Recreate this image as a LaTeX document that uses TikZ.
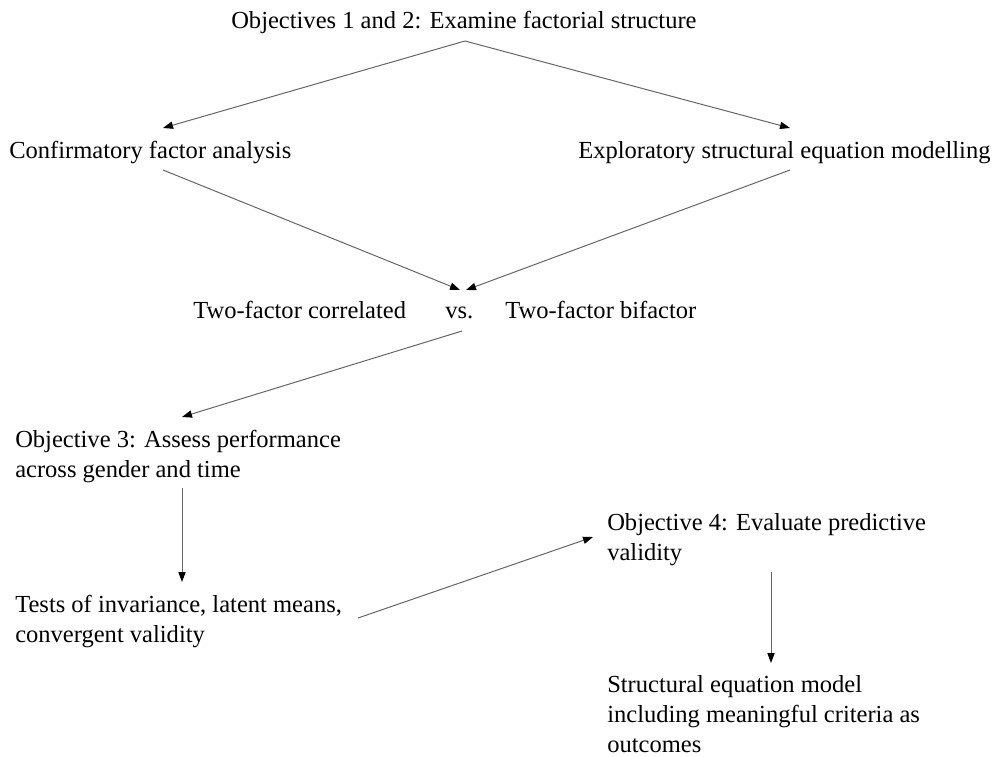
\documentclass[tikz,border=0pt]{standalone}
\usepackage{fontspec}
\setmainfont{Liberation Serif}
\usetikzlibrary{arrows.meta}
\newcommand\stackedlines[1]{\vtop{\baselineskip=22.5pt\halign{##\hfil\cr#1\crcr}}}
\tikzset{
  txt/.style={anchor=base west, inner sep=0pt, font=\fontsize{18.4}{22.5}\selectfont},
  arr/.style={draw=black!60, line width=0.75pt, -{Triangle[length=7.5pt,width=5.4pt,color=black]}}
}
\begin{document}
\begin{tikzpicture}[x=0.75pt,y=-0.75pt]
\fill[white] (0,0) rectangle (1005,756);
\useasboundingbox (0,0) rectangle (1005,756);
% texts
\node[txt] (title) at (231,29) {Objectives 1 and 2: Examine factorial structure};
\node[txt] (cfa) at (9,158) {Confirmatory factor analysis};
\node[txt] (esem) at (578,158) {Exploratory structural equation modelling};
\node[txt] (corr) at (193,318) {Two-factor correlated};
\node[txt] (vs) at (445,318) {vs.};
\node[txt] (bif) at (505,318) {Two-factor bifactor};
\node[txt] (obj3) at (15,447) {\stackedlines{Objective 3: Assess performance\cr across gender and time}};
\node[txt] (tests) at (15,612) {\stackedlines{Tests of invariance, latent means,\cr convergent validity}};
\node[txt] (obj4) at (607,530) {\stackedlines{Objective 4: Evaluate predictive\cr validity}};
\node[txt] (sem) at (607,692) {\stackedlines{Structural equation model\cr including meaningful criteria as\cr outcomes}};
% connector ends
\coordinate (apex) at (465,41);
\coordinate (cfaIn) at (163,128);
\coordinate (esemIn) at (790,128);
\coordinate (cfaOut) at (163,170);
\coordinate (esemOut) at (790,170);
\coordinate (vsInL) at (460,290);
\coordinate (vsInR) at (466,290);
\coordinate (vsOut) at (462,331);
\coordinate (obj3In) at (182,417);
\coordinate (obj3Out) at (182,488);
\coordinate (testsIn) at (182,582);
\coordinate (testsOut) at (358,618);
\coordinate (obj4In) at (593,537);
\coordinate (obj4Out) at (771,572);
\coordinate (semIn) at (771,663);
% connectors
\draw[arr] (apex) -- (cfaIn);
\draw[arr] (apex) -- (esemIn);
\draw[arr] (cfaOut) -- (vsInL);
\draw[arr] (esemOut) -- (vsInR);
\draw[arr] (vsOut) -- (obj3In);
\draw[arr] (obj3Out) -- (testsIn);
\draw[arr] (testsOut) -- (obj4In);
\draw[arr] (obj4Out) -- (semIn);
\end{tikzpicture}
\end{document}
